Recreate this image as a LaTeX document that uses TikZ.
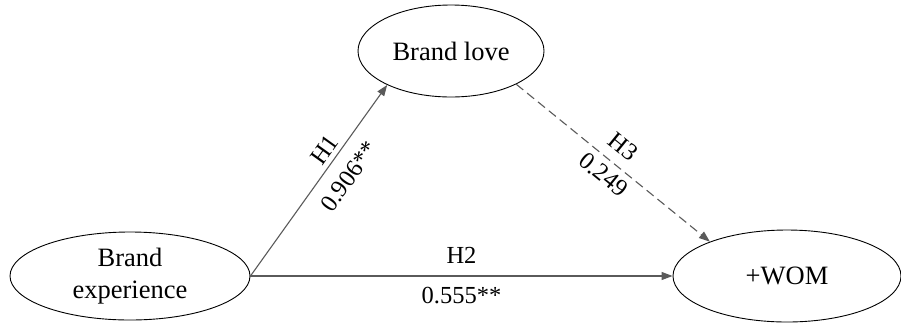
\documentclass[tikz,border=0pt]{standalone}
\usepackage{fontspec}
\setmainfont{Liberation Serif}
\usetikzlibrary{shapes.geometric,arrows.meta}
\definecolor{linegray}{HTML}{5A5A5A}
\begin{document}
\begin{tikzpicture}[x=1pt,y=-1pt,
  construct/.style={ellipse,draw=black,line width=0.9pt,inner sep=0pt,align=center,
    font=\fontsize{26.5}{32}\selectfont},
  path/.style={draw=linegray,line width=1.1pt,-{Triangle[length=11pt,width=8pt]}},
  lbl/.style={font=\fontsize{24.5}{28}\selectfont,inner sep=0pt,sloped}]
\useasboundingbox (0,0) rectangle (901,322);
\node[construct,minimum width=240pt,minimum height=88pt] (be) at (130,276) {Brand\\experience};
\node[construct,minimum width=186pt,minimum height=92pt] (bl) at (451,51) {Brand love};
\node[construct,minimum width=228pt,minimum height=92pt] (wom) at (787,276) {+WOM};
\draw[path] (be.east) -- (bl.208)
  node[lbl,pos=0.62,above=5pt] (h1) {H1}
  node[lbl,pos=0.59,below=13pt] (v1) {0.906**};
\draw[path] (be.east) -- (wom.west)
  node[lbl,pos=0.5,above=12pt] (h2) {H2}
  node[lbl,pos=0.5,below=11pt] (v2) {0.555**};
\draw[path,dashed,dash pattern=on 9pt off 5pt] (bl.333) -- (wom.156)
  node[lbl,pos=0.49,above=10pt] (h3) {H3}
  node[lbl,pos=0.5,below=6pt] (v3) {0.249};
\end{tikzpicture}
\end{document}
